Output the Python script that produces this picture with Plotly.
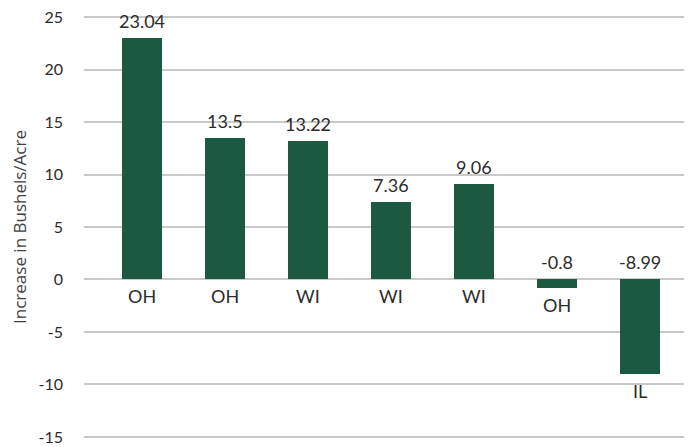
import plotly.graph_objects as go

states = ["OH", "OH", "WI", "WI", "WI", "OH", "IL"]
increase = [23.04, 13.5, 13.22, 7.36, 9.06, -0.8, -8.99]
y_ticks = [-15, -10, -5, 0, 5, 10, 15, 20, 25]

x_idx = list(range(len(states)))
bar_color = "#1b5a40"
text_color = "#2b2b2b"
font_main = "Lato, Noto Sans, sans-serif"

fig = go.Figure()
fig.add_trace(go.Bar(
    x=x_idx, y=increase, width=0.482,
    marker=dict(color=bar_color, line=dict(width=0)),
    hoverinfo="skip",
))

annotations = []
for i, (s, v) in enumerate(zip(states, increase)):
    # value labels
    annotations.append(dict(
        x=i, y=max(v, 0), xref="x", yref="y", text=str(v),
        showarrow=False, yanchor="middle", xanchor="center", yshift=17,
        font=dict(family=font_main, size=18, color=text_color),
    ))
    # category labels
    annotations.append(dict(
        x=i, y=min(v, 0), xref="x", yref="y", text=s,
        showarrow=False, yanchor="middle", xanchor="center", yshift=-17,
        font=dict(family=font_main, size=18, color=text_color),
    ))

# the page body adds an 8px offset; the figure is sized to fill the rest
fig.update_layout(
    width=684, height=439,
    margin=dict(l=76, r=0, t=8, b=9, pad=0, autoexpand=False),
    plot_bgcolor="white", paper_bgcolor="white",
    showlegend=False,
    bargap=0,
    annotations=annotations,
    xaxis=dict(
        range=[-0.699, 6.627], showticklabels=False, showgrid=False,
        zeroline=False, showline=False, ticks="",
    ),
    yaxis=dict(
        range=[-15.1, 25.1], tickvals=y_ticks, ticktext=[str(t) for t in y_ticks],
        showgrid=True, gridcolor="#c9c9c9", gridwidth=1.5,
        zeroline=True, zerolinecolor="#c9c9c9", zerolinewidth=1.5,
        showline=False, ticks="", ticklabelstandoff=20,
        ticklabeloverflow="allow",
        tickfont=dict(family=font_main, size=16, color=text_color),
        title=dict(text="Increase in Bushels/Acre", standoff=15,
                   font=dict(family="Open Sans, sans-serif", size=17, color="#404040")),
    ),
)

fig.write_html("out.html")
